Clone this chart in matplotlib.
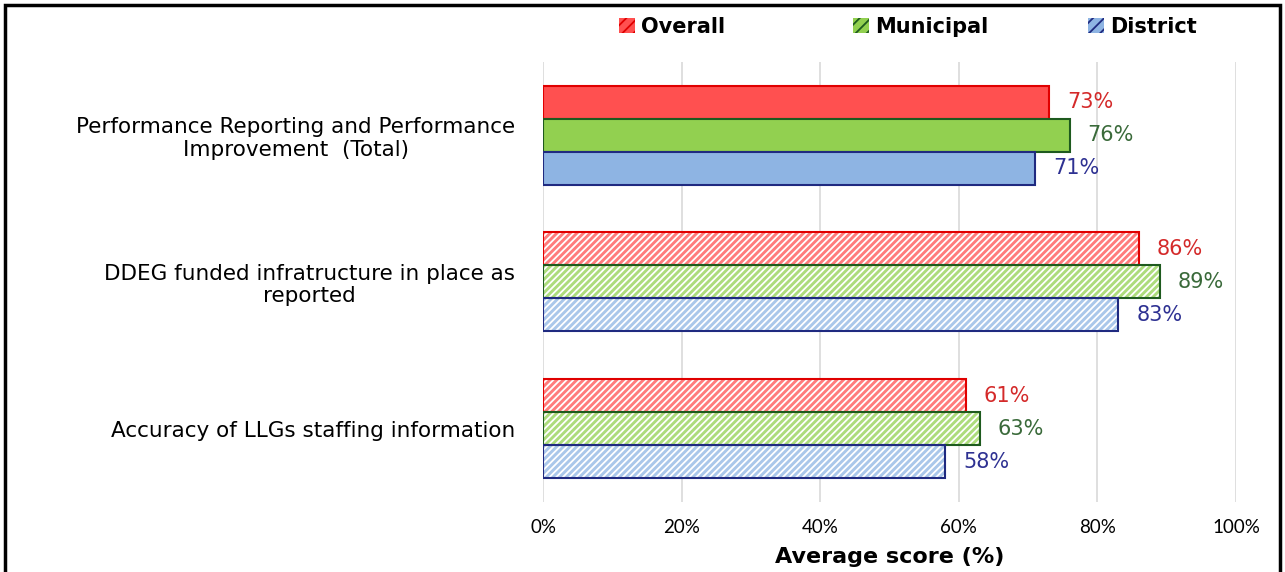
import numpy as np
import matplotlib.pyplot as plt
from matplotlib.patches import Rectangle, Patch
from matplotlib.colors import to_rgb

plt.rcParams['font.family'] = ['DejaVu Sans']
plt.rcParams['hatch.linewidth'] = 1.3

categories = ["Performance Reporting and Performance\nImprovement  (Total)",
              "DDEG funded infratructure in place as\nreported",
              "Accuracy of LLGs staffing information"]
series = ["Overall", "Municipal", "District"]
overall = [73, 86, 61]
municipal = [76, 89, 63]
district = [71, 83, 58]
hatched = [False, True, True]   # first group drawn solid

fills = ["#ff5050", "#92d050", "#8eb4e3"]
edges = ["#e00000", "#1e5a1e", "#1f2a80"]
txtcol = ["#d42a2a", "#3a6a3a", "#2e3192"]


def lighten(c, f=0.25):
    r = np.array(to_rgb(c))
    return tuple(r + (1 - r) * f)


fig = plt.figure(figsize=(12.85, 5.72), dpi=100)
ax = fig.add_axes([0.4226, 0.1224, 0.5393, 0.7692])

y = np.arange(len(categories))
h = 0.225
vals = [overall, municipal, district]
for s in range(3):
    pos = y + (s - 1) * h
    for i in range(len(categories)):
        v = vals[s][i] / 100
        if hatched[i]:
            ax.barh(pos[i], v, h, color=lighten(fills[s]), edgecolor="white", hatch="/////", linewidth=0, zorder=2)
            ax.barh(pos[i], v, h, fill=False, edgecolor=edges[s], linewidth=1.5, zorder=3)
        else:
            ax.barh(pos[i], v, h, color=fills[s], edgecolor=edges[s], linewidth=1.5, zorder=3)
        ax.text(v + 0.026, pos[i], f"{vals[s][i]}%", va="center", ha="left",
                color=txtcol[s], fontsize=15, zorder=4)

ax.set_xlim(0, 1)
ax.set_ylim(2.5, -0.5)
ax.set_xticks(np.linspace(0, 1, 6))
ax.set_xticklabels([f"{int(t)}%" for t in np.linspace(0, 100, 6)], fontsize=13.5, family="Lato")
ax.set_yticks(y)
ax.set_yticklabels(categories, fontsize=15.5, ha="right", multialignment="center", linespacing=1.15)
ax.tick_params(axis="y", length=0, pad=20)
ax.tick_params(axis="x", length=0, pad=12)
ax.grid(axis="x", color="#d9d9d9", linewidth=1.2, zorder=0)
for sp in ax.spines.values():
    sp.set_visible(False)
ax.set_xlabel("Average score (%)", fontsize=16, fontweight="bold", labelpad=8)

legx = [0.482, 0.664, 0.847]
for s in range(3):
    hnd = Patch(facecolor=fills[s], edgecolor="white", hatch="///", linewidth=0, label=series[s])
    lg = fig.legend(handles=[hnd], loc="center left", bbox_to_anchor=(legx[s], 0.953), frameon=False,
                    prop={"size": 15, "weight": "bold"}, handlelength=0.75, handleheight=0.75,
                    handletextpad=0.3, borderpad=0, borderaxespad=0)
    lg.get_patches()[0].set_edgecolor(edges[s])

fig.patches.append(Rectangle((0.004, -0.1), 0.992, 1.091, transform=fig.transFigure,
                             fill=False, edgecolor="black", linewidth=2.5))

plt.savefig("out.png")
